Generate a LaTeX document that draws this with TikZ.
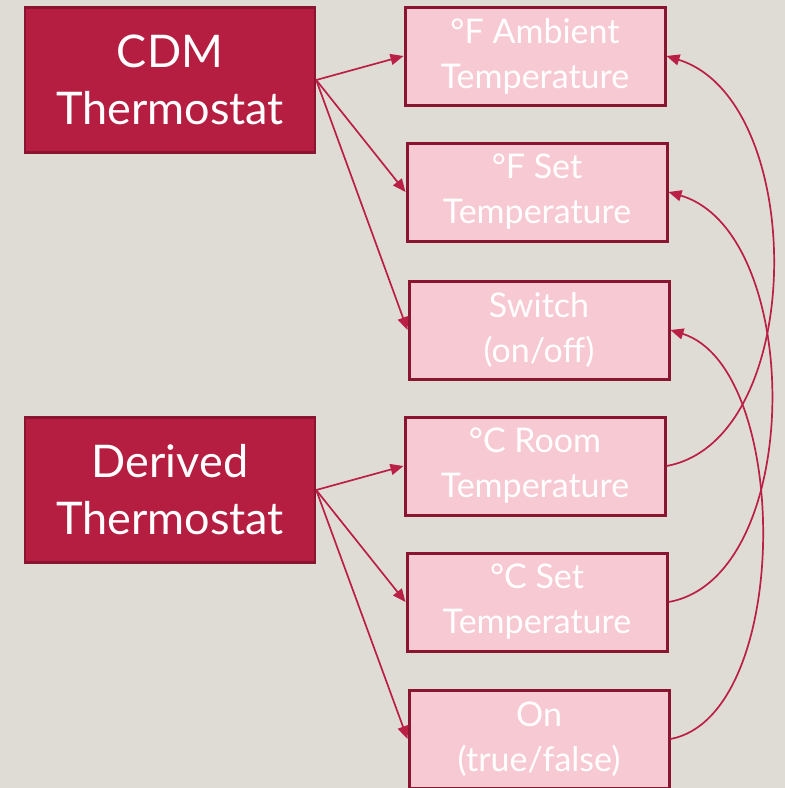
\documentclass[tikz,border=0pt]{standalone}
\usepackage{fontspec}
\setmainfont{Lato}
\usetikzlibrary{arrows.meta}

\definecolor{bgsand}{HTML}{DFDCD5}
\definecolor{crimson}{HTML}{B51E40}
\definecolor{crimsonedge}{HTML}{8A1530}
\definecolor{rosefill}{HTML}{F7C9D3}
\definecolor{linkred}{HTML}{BA1F45}

\begin{document}
\begin{tikzpicture}[x=1pt,y=-1pt,
  source/.style={draw=crimsonedge,line width=2.4pt,fill=crimson,text=white,
    minimum width=290pt,minimum height=145pt,inner sep=0pt,align=center,
    font=\fontsize{45}{57}\selectfont},
  field/.style={draw=crimsonedge,line width=3pt,fill=rosefill,text=white,
    minimum width=260pt,minimum height=98pt,inner sep=0pt,align=center,
    font=\fontsize{34}{45}\selectfont},
  link/.style={draw=linkred,line width=1.7pt,-{Triangle[length=13pt,width=11pt]}}]
\useasboundingbox (0,0) rectangle (785,788);
\fill[bgsand] (0,0) rectangle (785,788);
\node[source] (cdm) at (170,80) {CDM\\Thermostat};
\node[source] (derived) at (170,490) {Derived\\Thermostat};
\node[field] (ambF) at (535,56) {°F Ambient\\Temperature};
\node[field] (setF) at (537,192) {°F Set\\Temperature};
\node[field] (switch) at (539,330) {Switch\\(on/off)};
\node[field] (roomC) at (535,466) {°C Room\\Temperature};
\node[field] (setC) at (537,602) {°C Set\\Temperature};
\node[field] (onoff) at (539,739) {On\\(true/false)};
\draw[link] (cdm.east) -- (ambF.west);
\draw[link] (cdm.east) -- (setF.west);
\draw[link] (cdm.east) -- (switch.west);
\draw[link] (derived.east) -- (roomC.west);
\draw[link] (derived.east) -- (setC.west);
\draw[link] (derived.east) -- (onoff.west);
\draw[link] (roomC.east) .. controls (808,440) and (808,100) .. (ambF.east);
\draw[link] (setC.east) .. controls (805,578) and (805,232) .. (setF.east);
\draw[link] (onoff.east) .. controls (792,716) and (792,368) .. (switch.east);
\end{tikzpicture}
\end{document}
